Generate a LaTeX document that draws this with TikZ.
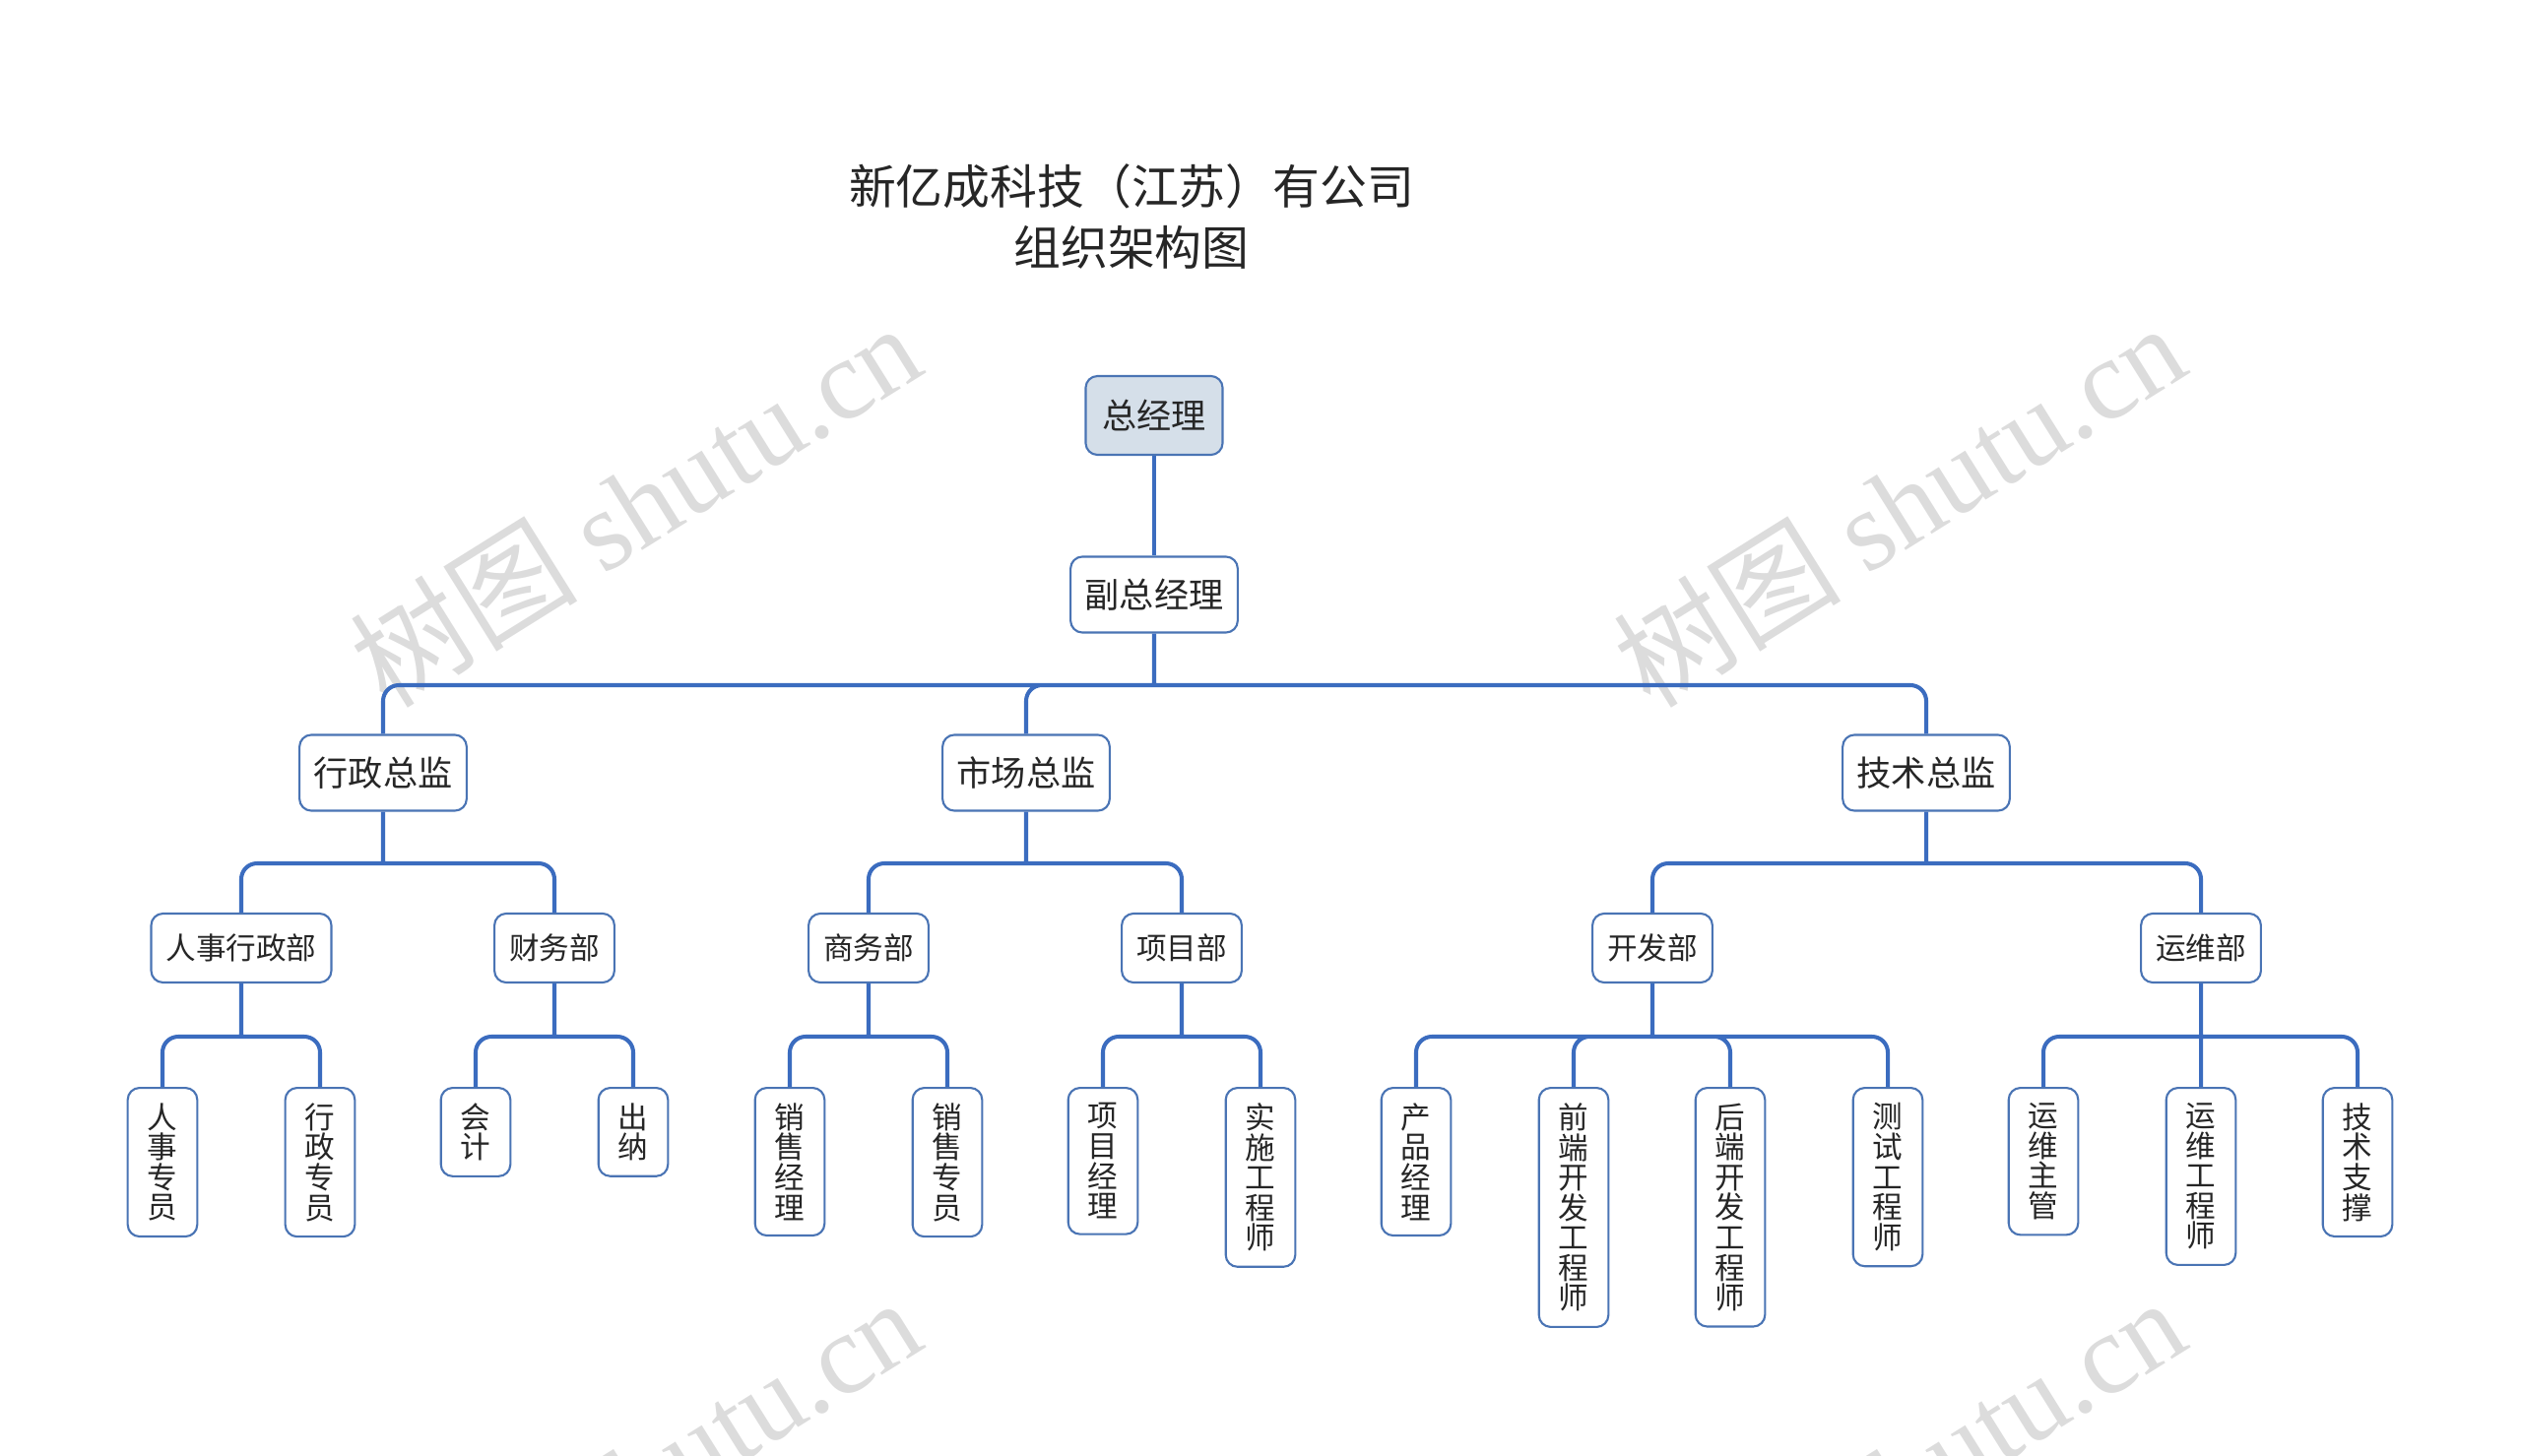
\documentclass[tikz,border=0pt]{standalone}
\usepackage{fontspec}
\setmainfont{Noto Sans CJK SC}
\newfontfamily\wmfont{Liberation Serif}
\usepackage{tikz}
\usetikzlibrary{calc}
\definecolor{linkblue}{HTML}{3B6CBF}
\definecolor{boxblue}{HTML}{4A74B4}
\definecolor{topfill}{HTML}{D5DFE9}
\definecolor{txtgray}{HTML}{262626}
\definecolor{wmgray}{HTML}{DCDCDC}
\newcommand{\leaffont}{\fontsize{8.7}{8.7}\selectfont\lineskiplimit=-5pt\relax}

\begin{document}
\begin{tikzpicture}[x=0.01cm, y=-0.01cm,
  box/.style={draw=boxblue, line width=0.6pt, rounded corners=0.12cm, fill=white, text=txtgray,
    inner xsep=0.145cm, inner ysep=0pt, minimum height=0.77cm, font=\fontsize{10}{12}\selectfont},
  dept/.style={box, minimum height=0.70cm, inner xsep=0.15cm, font=\fontsize{8.7}{10}\selectfont},
  leaf/.style={box, anchor=north, align=center, inner xsep=0.2cm, inner ysep=0.155cm, minimum height=0pt,
    font=\leaffont},
  link/.style={draw=linkblue, line width=1.15pt, rounded corners=0.16cm},
  wmark/.style={text=wmgray, rotate=32, font=\fontsize{33}{33}\selectfont}]
\useasboundingbox (0,0) rectangle (2560,1479);
\clip (0,0) rectangle (2560,1479);

% 水印
\node[wmark] (wm1) at (645,512) {树图 {\wmfont shutu.cn}};
\node[wmark] (wm2) at (1928,512) {树图 {\wmfont shutu.cn}};
\node[wmark] (wm3) at (645,1502) {树图 {\wmfont shutu.cn}};
\node[wmark] (wm4) at (1928,1502) {树图 {\wmfont shutu.cn}};

% 标题
\node[align=center, text=txtgray, font=\fontsize{13.6}{17.6}\selectfont] (title) at (1149,220)
  {新亿成科技（江苏）有公司\\组织架构图};

% 连线的高度
\coordinate (bar1) at (0,696);
\coordinate (bar2) at (0,877);
\coordinate (bar3) at (0,1053);

% 第一层、第二层
\node[box, fill=topfill, minimum width=1.39cm, minimum height=0.80cm] (ceo) at (1172,422) {总经理};
\node[box] (vp) at (1172,604) {副总经理};
\node[box] (xz) at (389,785) {行政总监};
\node[box] (sc) at (1042,785) {市场总监};
\node[box] (js) at (1956,785) {技术总监};

% 部门
\node[dept] (rs) at (245,963) {人事行政部};
\node[dept] (cw) at (563,963) {财务部};
\node[dept] (sw) at (882,963) {商务部};
\node[dept] (xm) at (1200,963) {项目部};
\node[dept] (kf) at (1678,963) {开发部};
\node[dept] (yw) at (2235,963) {运维部};

% 岗位（竖排）
\node[leaf] (rszy) at (165,1104) {人\\事\\专\\员};
\node[leaf] (xzzy) at (325,1104) {行\\政\\专\\员};
\node[leaf] (kj) at (483,1104) {会\\计};
\node[leaf] (cn) at (643,1104) {出\\纳};
\node[leaf] (xsjl) at (802,1104) {销\\售\\经\\理};
\node[leaf] (xszy) at (962,1104) {销\\售\\专\\员};
\node[leaf] (xmjl) at (1120,1104) {项\\目\\经\\理};
\node[leaf] (ssgc) at (1280,1104) {实\\施\\工\\程\\师};
\node[leaf] (cpjl) at (1438,1104) {产\\品\\经\\理};
\node[leaf] (qdgc) at (1598,1104) {前\\端\\开\\发\\工\\程\\师};
\node[leaf] (hdgc) at (1757,1104) {后\\端\\开\\发\\工\\程\\师};
\node[leaf] (csgc) at (1917,1104) {测\\试\\工\\程\\师};
\node[leaf] (ywzg) at (2075,1104) {运\\维\\主\\管};
\node[leaf] (ywgc) at (2235,1104) {运\\维\\工\\程\\师};
\node[leaf] (jszc) at (2394,1104) {技\\术\\支\\撑};

% 连线
\draw[link] (ceo.south) -- (vp.north);
\draw[link] (vp.south) -- (vp.south |- bar1)
  (vp.south |- bar1) -| (xz.north) (vp.south |- bar1) -| (sc.north) (vp.south |- bar1) -| (js.north);
\draw[link] (xz.south) -- (xz.south |- bar2)
  (xz.south |- bar2) -| (rs.north) (xz.south |- bar2) -| (cw.north);
\draw[link] (sc.south) -- (sc.south |- bar2)
  (sc.south |- bar2) -| (sw.north) (sc.south |- bar2) -| (xm.north);
\draw[link] (js.south) -- (js.south |- bar2)
  (js.south |- bar2) -| (kf.north) (js.south |- bar2) -| (yw.north);
\draw[link] (rs.south) -- (rs.south |- bar3)
  (rs.south |- bar3) -| (rszy.north) (rs.south |- bar3) -| (xzzy.north);
\draw[link] (cw.south) -- (cw.south |- bar3)
  (cw.south |- bar3) -| (kj.north) (cw.south |- bar3) -| (cn.north);
\draw[link] (sw.south) -- (sw.south |- bar3)
  (sw.south |- bar3) -| (xsjl.north) (sw.south |- bar3) -| (xszy.north);
\draw[link] (xm.south) -- (xm.south |- bar3)
  (xm.south |- bar3) -| (xmjl.north) (xm.south |- bar3) -| (ssgc.north);
\draw[link] (kf.south) -- (kf.south |- bar3)
  (kf.south |- bar3) -| (cpjl.north) (kf.south |- bar3) -| (qdgc.north)
  (kf.south |- bar3) -| (hdgc.north) (kf.south |- bar3) -| (csgc.north);
\draw[link] (yw.south) -- (ywgc.north)
  (yw.south |- bar3) -| (ywzg.north) (yw.south |- bar3) -| (jszc.north);
\end{tikzpicture}
\end{document}
